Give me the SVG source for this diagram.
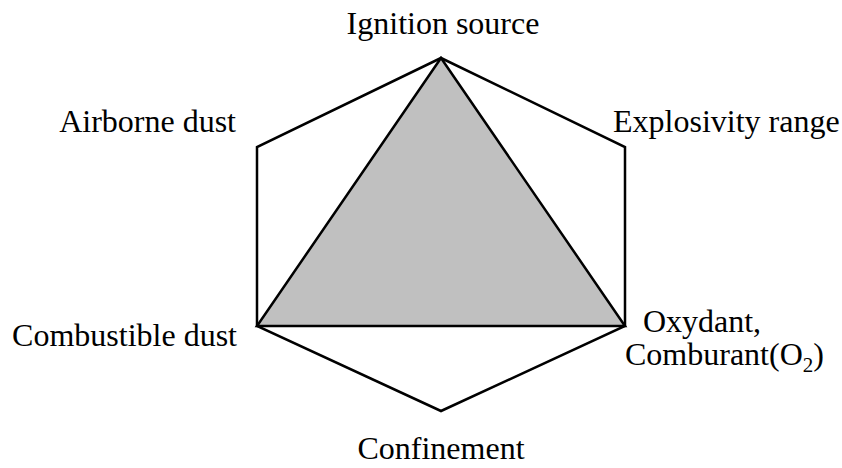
<svg xmlns="http://www.w3.org/2000/svg" width="842" height="468" viewBox="0 0 842 468">
<style>
text{font-family:"Liberation Serif","Times New Roman",serif;font-size:32px;fill:#000}
.ln{fill:none;stroke:#000;stroke-width:2.5;stroke-linejoin:miter}
</style>
<rect width="842" height="468" fill="#fff"/>
<g id="connectors">
<polygon class="ln" points="441,58 257,147 257,326 441,411 625,326 625,147"/>
<polygon points="441,58 257,326 625,326" fill="#c0c0c0" stroke="#000" stroke-width="2.5"/>
</g>
<g id="ignition"><text x="443" y="34" text-anchor="middle">Ignition source</text></g>
<g id="airborne"><text x="236" y="132" text-anchor="end">Airborne dust</text></g>
<g id="explosivity"><text x="613" y="132">Explosivity range</text></g>
<g id="combustible"><text x="237" y="346" text-anchor="end">Combustible dust</text></g>
<g id="oxydant"><text x="702" y="332" text-anchor="middle">Oxydant,</text><text x="625" y="365">Comburant(O<tspan font-size="21" dy="7">2</tspan><tspan dy="-7">)</tspan></text></g>
<g id="confinement"><text x="441" y="459" text-anchor="middle">Confinement</text></g>
</svg>
